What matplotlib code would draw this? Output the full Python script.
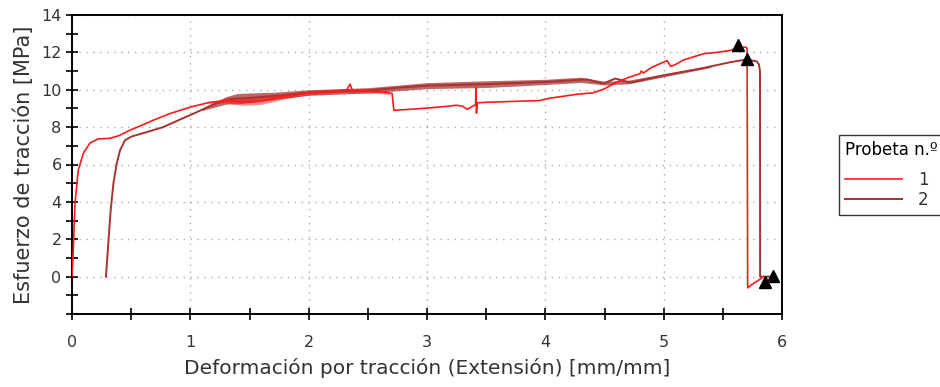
import matplotlib
matplotlib.use("Agg")
import matplotlib.pyplot as plt
import numpy as np

# probeta 1 (rojo)
x1 = [0.0, 0.01, 0.025, 0.053, 0.096, 0.152, 0.222, 0.32, 0.40, 0.49, 0.59, 0.687, 0.83,
      1.0, 1.166, 1.31, 1.45, 1.6, 1.76, 1.98, 2.15, 2.32, 2.35, 2.37, 2.5, 2.6, 2.69,
      2.705, 2.72, 2.85, 3.0, 3.15, 3.25, 3.30, 3.34, 3.38, 3.41, 3.413, 3.418, 3.425,
      3.5, 3.7, 3.95, 4.04, 4.27, 4.40, 4.5, 4.6, 4.7, 4.8, 4.81, 4.83, 4.9, 5.0, 5.03,
      5.06, 5.1, 5.17, 5.34, 5.45, 5.56, 5.63, 5.696, 5.705, 5.71, 5.75, 5.8, 5.83]
y1 = [0.0, 1.3, 3.9, 5.7, 6.6, 7.15, 7.37, 7.4, 7.55, 7.84, 8.1, 8.37, 8.73,
      9.07, 9.33, 9.42, 9.35, 9.4, 9.6, 9.82, 9.9, 9.97, 10.3, 9.95, 9.95, 9.9, 9.82,
      9.8, 8.9, 8.95, 9.02, 9.1, 9.17, 9.12, 8.95, 9.1, 9.2, 10.1, 8.75, 9.3,
      9.33, 9.37, 9.42, 9.55, 9.76, 9.83, 10.05, 10.4, 10.65, 10.86, 11.0, 10.9, 11.2, 11.48, 11.55,
      11.25, 11.35, 11.6, 11.93, 12.0, 12.1, 12.25, 12.28, 12.2, -0.6, -0.4, -0.2, -0.07]

# probeta 2 (marrón)
x2 = [0.287, 0.307, 0.327, 0.35, 0.378, 0.406, 0.448, 0.504, 0.63, 0.77, 0.91, 1.054,
      1.194, 1.335, 1.476, 1.617, 1.8, 2.0, 2.18, 2.5, 2.88, 3.0, 3.5, 4.0, 4.35,
      4.49, 4.59, 4.72, 5.0, 5.31, 5.56, 5.70, 5.786, 5.805, 5.814, 5.815, 5.92]
y2 = [0.0, 1.8, 3.55, 5.0, 6.05, 6.76, 7.3, 7.5, 7.73, 8.0, 8.4, 8.8,
      9.22, 9.5, 9.55, 9.62, 9.72, 9.85, 9.9, 9.97, 10.17, 10.22, 10.3, 10.42, 10.55,
      10.33, 10.6, 10.38, 10.77, 11.13, 11.47, 11.62, 11.52, 11.35, 11.0, 0.0, 0.0]

# ruido (semiancho aproximado de la banda)
band2_x = [1.1, 1.3, 1.4, 1.55, 1.7, 2.0, 2.5, 3.0, 3.5, 4.0, 4.3, 4.5, 4.7, 5.0, 5.4]
band2_w = [0.05, 0.2, 0.28, 0.25, 0.2, 0.15, 0.14, 0.16, 0.18, 0.14, 0.14, 0.1, 0.1, 0.08, 0.06]
band1_x = [1.15, 1.3, 1.45, 1.6, 1.8, 2.0, 2.3, 2.6, 2.68]
band1_w = [0.04, 0.12, 0.18, 0.18, 0.12, 0.1, 0.1, 0.1, 0.08]

# marcadores de rotura
peaks_x = [5.63, 5.70]
peaks_y = [12.37, 11.66]
ends_x = [5.857, 5.92]
ends_y = [-0.3, 0.03]

red = "#ff1a1a"
brown = "#a83232"

fig = plt.figure(figsize=(9.4, 3.87), dpi=100)
ax = fig.add_axes([72/940, 1-314/387, 710/940, 299/387])

bx = np.array(band2_x)
by = np.interp(bx, x2, y2)
ax.fill_between(bx, by - np.array(band2_w), by + np.array(band2_w), color=brown, alpha=0.75, lw=0, zorder=2)
rx = np.array(band1_x)
ry = np.interp(rx, x1, y1)
ax.fill_between(rx, ry - np.array(band1_w), ry + np.array(band1_w), color=red, alpha=0.5, lw=0, zorder=3)

ax.plot(x1, y1, color=red, lw=1.2, label="1", zorder=3)
ax.plot(x2, y2, color=brown, lw=1.4, label="2", zorder=2)
ax.plot(peaks_x, peaks_y, "k^", ms=8, zorder=4)
ax.plot(ends_x, ends_y, "k^", ms=8, zorder=4)

ax.set_xlim(0, 6)
ax.set_ylim(-2, 14)
ax.set_xticks(np.arange(0, 7, 1))
ax.set_xticks(np.arange(0, 6.5, 0.5), minor=True)
ax.set_yticks(np.arange(0, 15, 2))
ax.set_yticks(np.arange(-2, 15, 1), minor=True)
ax.tick_params(which="both", direction="inout", length=8, width=1.2, colors="black",
               labelcolor="#333333", labelsize=11.5)
ax.tick_params(axis="x", which="both", pad=11)
ax.grid(True, which="major", color="#aaaaaa", linestyle=(0, (1, 4)), lw=1)
for s in ax.spines.values():
    s.set_linewidth(1.4)

ax.set_xlabel("Deformación por tracción (Extensión) [mm/mm]", fontsize=14.5, color="#333333", labelpad=6)
ax.set_ylabel("Esfuerzo de tracción [MPa]", fontsize=15, color="#333333", labelpad=5)

leg = fig.legend(loc="upper left", bbox_to_anchor=(839/940, 1-135/387), title="Probeta n.º",
                 fontsize=12, title_fontsize=12, frameon=True, fancybox=False,
                 handlelength=3.4, handletextpad=1.0, borderpad=0.35, labelspacing=0.1,
                 borderaxespad=0, alignment="left")
leg._legend_box.sep = 9
leg.get_frame().set_edgecolor("black")
leg.get_frame().set_linewidth(1)
for t in leg.get_texts():
    t.set_color("#333333")

fig.savefig("out.png", dpi=100)
